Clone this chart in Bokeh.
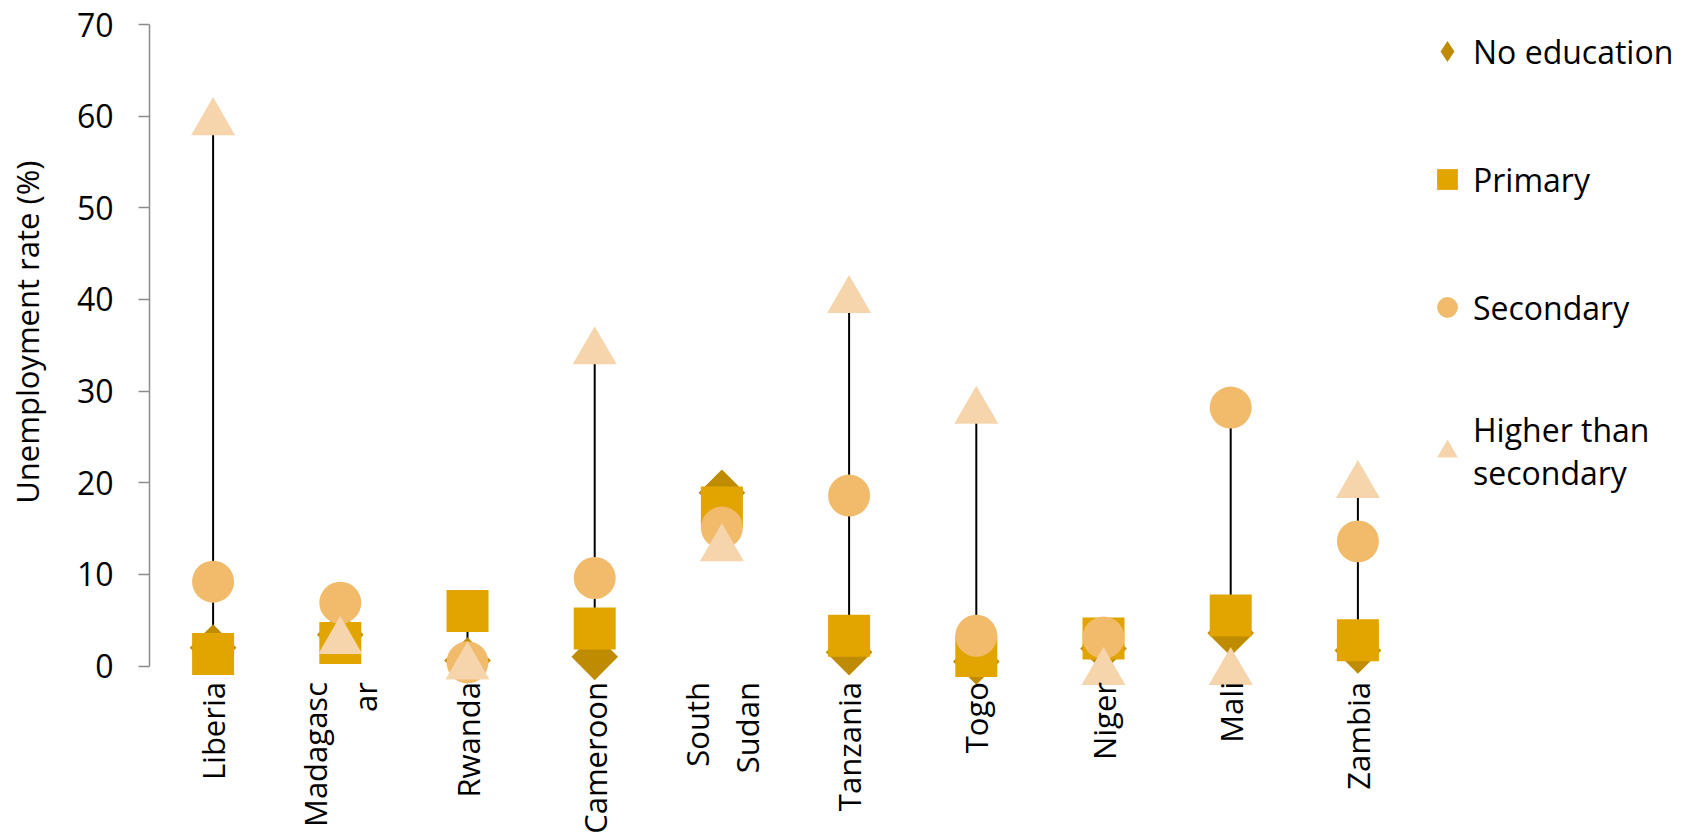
import numpy as np
from math import pi, sqrt
from bokeh.plotting import figure
from bokeh.models import (ColumnDataSource, Range1d, FactorRange, Legend, LegendItem,
                          FixedTicker, Title, LinearAxis)
from bokeh.transform import dodge
from bokeh.embed import file_html
from bokeh.resources import INLINE

# ---------------- data ----------------
countries = ["Liberia", "Madagasc\nar", "Rwanda", "Cameroon", "South\nSudan",
             "Tanzania", "Togo", "Niger", "Mali", "Zambia"]
no_education = [2.0, 3.4, 0.6, 1.0, 18.9, 1.5, 0.5, 1.9, 3.6, 1.7]
primary      = [1.3, 2.5, 6.0, 4.1, 17.3, 3.3, 1.1, 3.0, 5.5, 2.8]
secondary    = [9.2, 6.9, 0.4, 9.6, 15.1, 18.6, 3.3, 3.1, 28.2, 13.6]
higher       = [60.0, 3.4, 0.6, 35.0, 13.5, 40.6, 28.5, 0.0, 0.0, 20.4]
series_names = ["No education", "Primary", "Secondary", "Higher than\nsecondary"]
y_ticks = [0, 10, 20, 30, 40, 50, 60, 70]
y_title = "Unemployment rate (%)"

# ---------------- styles ----------------
FONT = "Open Sans"
FS = "32px"
FS_X = "31px"
C_NO, C_PRI, C_SEC, C_HI = "#BF8B00", "#E2A500", "#F1BB6B", "#F6D5AD"
LEFT_BORDER = 149
FRAME_W = 1272
Y_TOP = 70
PX_PER_UNIT = 641.5 / Y_TOP          # pixels per percentage point
TOP_BORDER = 24
FRAME_H = 835 - TOP_BORDER           # frame runs to the bottom so the x labels show
y_start = Y_TOP - FRAME_H / PX_PER_UNIT
TRI_SIZE = 44
# shift so the triangle's bounding box (not its centroid) is centred on the value
tri_shift = -(TRI_SIZE / 2 * sqrt(3)) / 6 / PX_PER_UNIT
TITLE_START = 17.7                   # value level where the y title text begins

src = ColumnDataSource(dict(
    country=countries, none=no_education, pri=primary, sec=secondary, hi=higher,
    lo=np.min([no_education, primary, secondary, higher], axis=0),
    top=np.max([no_education, primary, secondary, higher], axis=0),
))

p = figure(x_range=FactorRange(factors=countries), y_range=Range1d(y_start, Y_TOP),
           frame_width=FRAME_W, frame_height=FRAME_H,
           min_border_left=LEFT_BORDER, min_border_top=TOP_BORDER,
           min_border_bottom=0, min_border_right=0,
           output_backend="svg", toolbar_location=None)
p.background_fill_color = "white"
p.border_fill_color = "white"
p.outline_line_color = None
p.grid.visible = False

# high-low lines
p.segment(x0="country", y0="lo", x1="country", y1="top", source=src,
          line_color="black", line_width=2)

r_no = p.scatter(x="country", y="none", source=src, marker="square", angle=pi / 4,
                 size=33, fill_color=C_NO, line_color=None)
r_pri = p.scatter(x="country", y="pri", source=src, marker="square",
                  size=42, fill_color=C_PRI, line_color=None)
r_sec = p.scatter(x="country", y="sec", source=src, marker="circle",
                  size=42, fill_color=C_SEC, line_color=None)
r_hi = p.scatter(x="country", y=dodge("hi", tri_shift, range=p.y_range), source=src,
                 marker="triangle", size=TRI_SIZE, fill_color=C_HI, line_color=None)

# legend proxy for the diamond (legend glyphs are never rotated); its point is NaN, so it
# draws nothing in the plot
proxy_src = ColumnDataSource(dict(x=[countries[0]], y=[np.nan]))
leg_no = p.scatter(x="x", y="y", source=proxy_src, marker="diamond",
                   fill_color=C_NO, line_color=None)

legend = Legend(items=[
    LegendItem(label=series_names[0], renderers=[leg_no]),
    LegendItem(label=series_names[1], renderers=[r_pri]),
    LegendItem(label=series_names[2], renderers=[r_sec]),
    LegendItem(label=series_names[3], renderers=[r_hi]),
], location="top_left", orientation="vertical",
    glyph_width=52, glyph_height=54, label_standoff=0, spacing=74,
    padding=2, margin=0, border_line_color=None, background_fill_alpha=0,
    label_text_font=FONT, label_text_font_size=FS, label_text_color="black",
    label_text_line_height=1.3)
p.add_layout(legend, "right")

# y axis
ya = p.yaxis[0]
ya.bounds = (0, Y_TOP)
ya.ticker = FixedTicker(ticks=y_ticks)
ya.minor_tick_line_color = None
ya.axis_line_color = "#8C8C8C"
ya.axis_line_width = 1.5
ya.major_tick_line_color = "#8C8C8C"
ya.major_tick_line_width = 1.5
ya.major_tick_out = 11
ya.major_tick_in = 0
ya.major_label_standoff = 25
ya.major_label_text_font = FONT
ya.major_label_text_font_size = FS
ya.major_label_text_color = "black"

# blank spacer axis (one white tick, empty label): pushes the y title outward
# without moving the frame
spacer = LinearAxis(ticker=FixedTicker(ticks=[0]), axis_line_color=None,
                    major_tick_out=24, major_tick_in=0, minor_tick_out=0, minor_tick_in=0,
                    major_tick_line_color="white", minor_tick_line_color=None,
                    major_label_standoff=0, major_label_overrides={0: ""})
p.add_layout(spacer, "left")

# y title placed along the 0-70 span (offset measured from the frame bottom)
title_offset = FRAME_H - (Y_TOP - TITLE_START) * PX_PER_UNIT
p.add_layout(Title(text=y_title, align="left", offset=title_offset,
                   standoff=4, text_font=FONT, text_font_size="31px",
                   text_font_style="normal", text_color="black"), "left")

# x axis at y = 0, labels rotated
xa = p.xaxis[0]
xa.fixed_location = 0
xa.axis_line_color = None
xa.major_tick_line_color = None
xa.minor_tick_line_color = None
xa.major_tick_out = 0
xa.major_tick_in = 0
xa.major_label_standoff = 16
xa.major_label_orientation = pi / 2
xa.major_label_text_font = FONT
xa.major_label_text_font_size = FS_X
xa.major_label_text_color = "black"

open("out.html", "w").write(file_html(p, INLINE))
